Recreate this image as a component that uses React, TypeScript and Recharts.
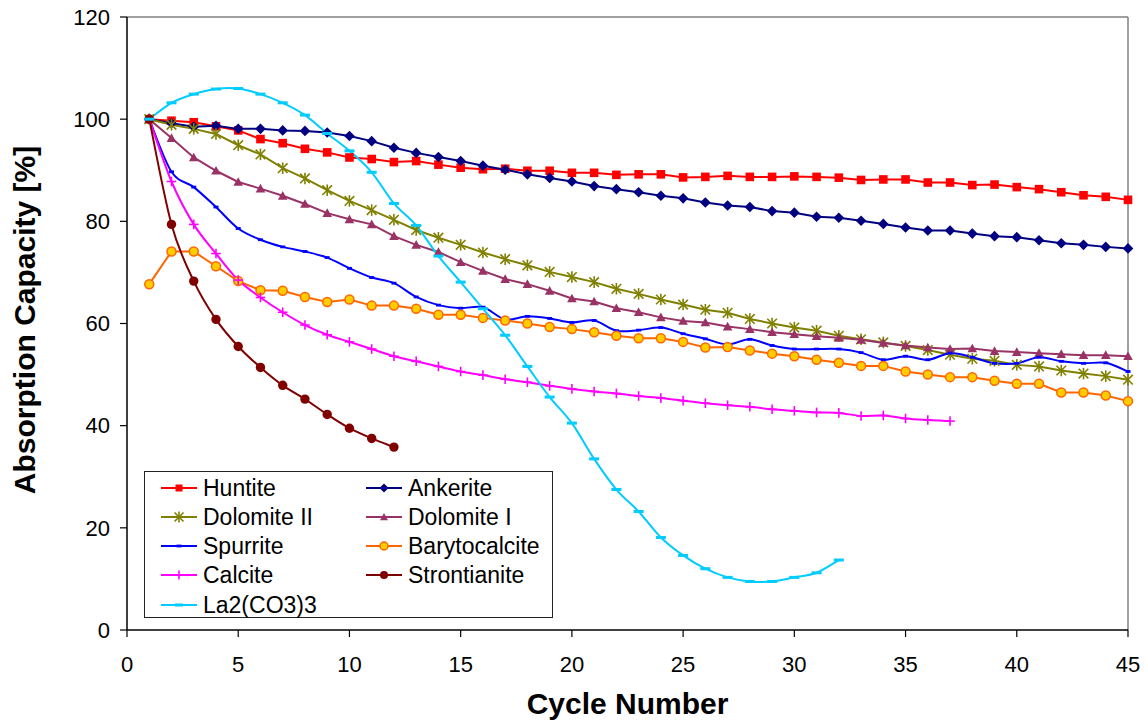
import React from "react";
import { LineChart, Line, XAxis, YAxis, ReferenceLine, Legend, Label } from "recharts";

const cycles = [1,2,3,4,5,6,7,8,9,10,11,12,13,14,15,16,17,18,19,20,21,22,23,24,25,26,27,28,29,30,31,32,33,34,35,36,37,38,39,40,41,42,43,44,45];

const huntite = [100,99.7,99.4,98.6,97.8,96.1,95.3,94.2,93.5,92.5,92.2,91.6,91.8,91.1,90.5,90.2,90.3,89.9,89.9,89.5,89.5,89.1,89.2,89.2,88.6,88.7,88.9,88.7,88.7,88.8,88.7,88.55,88.1,88.2,88.2,87.6,87.6,87.1,87.2,86.7,86.3,85.7,85.1,84.8,84.2];
const ankerite = [100,99.2,98.5,98.7,98.1,98.1,97.8,97.7,97.4,96.7,95.7,94.4,93.4,92.6,91.8,90.9,90.1,89.2,88.5,87.8,86.9,86.3,85.7,85.0,84.5,83.7,83.1,82.8,82.0,81.7,80.9,80.7,80.1,79.5,78.8,78.2,78.2,77.6,77.1,76.9,76.3,75.7,75.4,75.0,74.7];
const dolomite2 = [100,98.9,98.1,97.1,94.9,93.1,90.4,88.4,86.1,84.0,82.2,80.3,78.3,76.8,75.4,73.9,72.6,71.4,70.1,69.1,68.1,66.8,65.8,64.7,63.7,62.7,62.1,60.9,60.0,59.2,58.6,57.6,56.9,56.3,55.6,54.8,53.9,53.1,52.7,51.9,51.6,50.8,50.2,49.7,49.0];
const dolomite1 = [100,96.3,92.5,89.9,87.7,86.4,85.0,83.4,81.6,80.4,79.4,77.1,75.4,74.0,72.0,70.3,68.7,67.7,66.4,64.9,64.3,63.0,62.2,61.2,60.5,60.2,59.4,58.9,58.3,57.9,57.5,57.2,56.8,56.2,55.7,55.3,55.0,55.1,54.6,54.4,54.2,54.0,53.8,53.8,53.6];
const spurrite = [100,89.7,86.7,82.8,78.6,76.4,75.0,74.1,72.9,70.8,69.0,67.9,65.2,63.6,63.0,63.2,60.8,61.4,61.0,60.2,60.6,58.6,58.7,59.2,58.0,57.0,55.9,56.9,55.7,55.0,55.0,55.0,54.3,52.9,53.6,52.9,54.2,53.4,52.2,52.2,53.4,52.6,52.2,52.3,50.6];
const barytocalcite = [67.7,74.1,74.1,71.2,68.3,66.5,66.4,65.2,64.2,64.7,63.5,63.5,62.9,61.7,61.7,61.1,60.6,60.0,59.3,58.9,58.3,57.6,57.1,57.1,56.4,55.3,55.4,54.7,54.1,53.6,52.9,52.3,51.7,51.7,50.6,50.0,49.5,49.5,48.8,48.2,48.2,46.5,46.5,45.9,44.8];
const calcite = [100,87.8,79.4,73.7,68.5,65.1,62.2,59.7,57.8,56.4,55.0,53.6,52.6,51.6,50.6,49.9,49.1,48.5,47.8,47.2,46.7,46.3,45.8,45.4,44.9,44.4,44.0,43.7,43.2,42.9,42.6,42.5,41.9,42.0,41.4,41.1,40.9];
const strontianite = [100,79.4,68.3,60.8,55.5,51.4,47.9,45.2,42.2,39.5,37.5,35.8];
const la2co33 = [100,103.2,104.9,105.9,106.0,104.9,103.2,100.8,97.2,93.8,89.6,83.5,79.2,73.2,68.1,62.9,57.7,51.6,45.6,40.5,33.5,27.5,23.2,18.1,14.6,12.0,10.3,9.5,9.5,10.3,11.2,13.7];

const xTicks = [0,5,10,15,20,25,30,35,40,45];
const yTicks = [0,20,40,60,80,100,120];

const FONT = "Arial, 'Liberation Sans', sans-serif";

// Excel-like smoothing (Catmull-Rom style bezier)
const smoothCurve = (context: any) => {
  let pts: number[][] = [];
  return {
    areaStart() {},
    areaEnd() {},
    lineStart() { pts = []; },
    point(x: number, y: number) { pts.push([+x, +y]); },
    lineEnd() {
      if (!pts.length) return;
      context.moveTo(pts[0][0], pts[0][1]);
      for (let i = 0; i < pts.length - 1; i++) {
        const p0 = pts[i - 1] || pts[i];
        const p1 = pts[i];
        const p2 = pts[i + 1];
        const p3 = pts[i + 2] || p2;
        context.bezierCurveTo(
          p1[0] + (p2[0] - p0[0]) / 6, p1[1] + (p2[1] - p0[1]) / 6,
          p2[0] - (p3[0] - p1[0]) / 6, p2[1] - (p3[1] - p1[1]) / 6,
          p2[0], p2[1]
        );
      }
    },
  };
};

type Shape = "square" | "diamond" | "star" | "triangle" | "dash" | "circle" | "plus" | "dot" | "wide";

const drawMarker = (shape: Shape, cx: number, cy: number, color: string, fill: string, s: number, key?: any) => {
  switch (shape) {
    case "square":
      return <rect key={key} x={cx - s} y={cy - s} width={2 * s} height={2 * s} fill={color} />;
    case "diamond":
      return <polygon key={key} points={`${cx},${cy - s} ${cx + s},${cy} ${cx},${cy + s} ${cx - s},${cy}`} fill={color} />;
    case "star":
      return (
        <g key={key} stroke={color} strokeWidth={1.6}>
          <line x1={cx - s} y1={cy - s} x2={cx + s} y2={cy + s} />
          <line x1={cx - s} y1={cy + s} x2={cx + s} y2={cy - s} />
          <line x1={cx} y1={cy - s * 1.2} x2={cx} y2={cy + s * 1.2} />
        </g>
      );
    case "triangle":
      return <polygon key={key} points={`${cx},${cy - s} ${cx + s},${cy + s * 0.8} ${cx - s},${cy + s * 0.8}`} fill={color} />;
    case "dash":
      return <rect key={key} x={cx - s} y={cy - 1.4} width={2 * s} height={2.8} fill={color} />;
    case "wide":
      return <rect key={key} x={cx - s} y={cy - 1.5} width={2 * s} height={3} fill={color} />;
    case "circle":
      return <circle key={key} cx={cx} cy={cy} r={s} fill={fill} stroke={color} strokeWidth={1.5} />;
    case "dot":
      return <circle key={key} cx={cx} cy={cy} r={s} fill={color} />;
    case "plus":
      return (
        <g key={key} stroke={color} strokeWidth={1.6}>
          <line x1={cx - s} y1={cy} x2={cx + s} y2={cy} />
          <line x1={cx} y1={cy - s} x2={cx} y2={cy + s} />
        </g>
      );
  }
  return null;
};

const seriesDefs: { key: string; name: string; values: number[]; color: string; fill: string; shape: Shape; size: number; legendSize: number; smooth: boolean; width: number }[] = [
  { key: "huntite", name: "Huntite", values: huntite, color: "#FF0000", fill: "#FF0000", shape: "square", size: 4.3, legendSize: 3.5, smooth: false, width: 2 },
  { key: "ankerite", name: "Ankerite", values: ankerite, color: "#000080", fill: "#000080", shape: "diamond", size: 5.3, legendSize: 4.5, smooth: false, width: 2 },
  { key: "dolomite2", name: "Dolomite II", values: dolomite2, color: "#808000", fill: "#808000", shape: "star", size: 4.8, legendSize: 4.5, smooth: false, width: 2 },
  { key: "dolomite1", name: "Dolomite I", values: dolomite1, color: "#993366", fill: "#993366", shape: "triangle", size: 4.8, legendSize: 4, smooth: false, width: 2 },
  { key: "spurrite", name: "Spurrite", values: spurrite, color: "#0000FF", fill: "#0000FF", shape: "dash", size: 2.5, legendSize: 2.5, smooth: true, width: 2 },
  { key: "barytocalcite", name: "Barytocalcite", values: barytocalcite, color: "#FF6600", fill: "#FFCC00", shape: "circle", size: 4.5, legendSize: 4, smooth: false, width: 2 },
  { key: "calcite", name: "Calcite", values: calcite, color: "#FF00FF", fill: "#FF00FF", shape: "plus", size: 4.8, legendSize: 4.5, smooth: true, width: 2 },
  { key: "strontianite", name: "Strontianite", values: strontianite, color: "#800000", fill: "#800000", shape: "dot", size: 4.7, legendSize: 4, smooth: true, width: 2 },
  { key: "la", name: "La2(CO3)3", values: la2co33, color: "#00CCFF", fill: "#00CCFF", shape: "wide", size: 5, legendSize: 4, smooth: true, width: 2 },
];

const data = cycles.map((c, i) => {
  const row: any = { x: c };
  seriesDefs.forEach((s) => {
    if (i < s.values.length) row[s.key] = s.values[i];
  });
  return row;
});

const makeDot = (s: (typeof seriesDefs)[number]) => (props: any) => {
  const { cx, cy, index, value } = props;
  const k = `${s.key}-${index}`;
  if (cx == null || cy == null || value == null || (Array.isArray(value) && value[1] == null)) return <g key={k} />;
  return drawMarker(s.shape, cx, cy, s.color, s.fill, s.size, k);
};

const LegendBox = () => (
  <div
    style={{
      position: "relative",
      width: 409,
      height: 147,
      border: "1px solid #222",
      background: "#fff",
      boxSizing: "border-box",
      fontFamily: FONT,
      fontSize: 23,
      color: "#000",
    }}
  >
    {seriesDefs.map((s, i) => {
      const col = i % 2;
      const row = Math.floor(i / 2);
      return (
        <div
          key={s.key}
          style={{
            position: "absolute",
            left: col === 0 ? 16 : 221,
            top: 15.5 + row * 29.3 - 14,
            height: 28,
            display: "flex",
            alignItems: "center",
            whiteSpace: "nowrap",
          }}
        >
          <svg width={36} height={16} style={{ display: "block" }}>
            <line x1={0} y1={8} x2={36} y2={8} stroke={s.color} strokeWidth={2} />
            {drawMarker(s.shape, 18, 8, s.color, s.fill, s.legendSize)}
          </svg>
          <span style={{ marginLeft: 6, lineHeight: "28px" }}>{s.name}</span>
        </div>
      );
    })}
  </div>
);

const XTitle = () => (
  <text x={627.5} y={714} textAnchor="middle" fontFamily={FONT} fontWeight="bold" fontSize={30} fill="#000">
    Cycle Number
  </text>
);

const YTitle = () => (
  <text
    x={35}
    y={320}
    textAnchor="middle"
    fontFamily={FONT}
    fontWeight="bold"
    fontSize={30}
    fill="#000"
    transform="rotate(-90, 35, 320)"
  >
    Absorption Capacity [%]
  </text>
);

export default function App() {
  return (
    <div style={{ position: "absolute", left: 0, top: 0, width: 1147, height: 722, background: "#fff" }}>
      <LineChart width={1147} height={722} data={data} margin={{ top: 17, right: 19, left: 0, bottom: 0 }}>
        <XAxis
          dataKey="x"
          type="number"
          domain={[0, 45]}
          ticks={xTicks}
          interval={0}
          height={92}
          axisLine={{ stroke: "#000", strokeWidth: 1.5 }}
          tickLine={{ stroke: "#000", strokeWidth: 1.2 }}
          tickSize={7}
          tickMargin={19}
          tick={{ fill: "#000", fontSize: 22, fontFamily: FONT }}
        >
          <Label content={<XTitle />} />
        </XAxis>
        <YAxis
          type="number"
          domain={[0, 120]}
          ticks={yTicks}
          interval={0}
          width={127}
          axisLine={{ stroke: "#000", strokeWidth: 1.5 }}
          tickLine={{ stroke: "#000", strokeWidth: 1.2 }}
          tickSize={7}
          tickMargin={10}
          tick={{ fill: "#000", fontSize: 22, fontFamily: FONT }}
        >
          <Label content={<YTitle />} />
        </YAxis>
        <ReferenceLine y={120} stroke="#808080" strokeWidth={1.5} />
        <ReferenceLine x={45} stroke="#808080" strokeWidth={1.5} />
        {seriesDefs.map((s) => (
          <Line
            key={s.key}
            dataKey={s.key}
            name={s.name}
            type={s.smooth ? (smoothCurve as any) : "linear"}
            stroke={s.color}
            strokeWidth={s.width}
            dot={makeDot(s)}
            activeDot={false}
            isAnimationActive={false}
            connectNulls={false}
          />
        ))}
        <Legend
          layout="vertical"
          align="center"
          verticalAlign="middle"
          wrapperStyle={{ position: "absolute", left: 144, top: 471, width: 409, height: 147 }}
          content={() => <LegendBox />}
        />
      </LineChart>
    </div>
  );
}
